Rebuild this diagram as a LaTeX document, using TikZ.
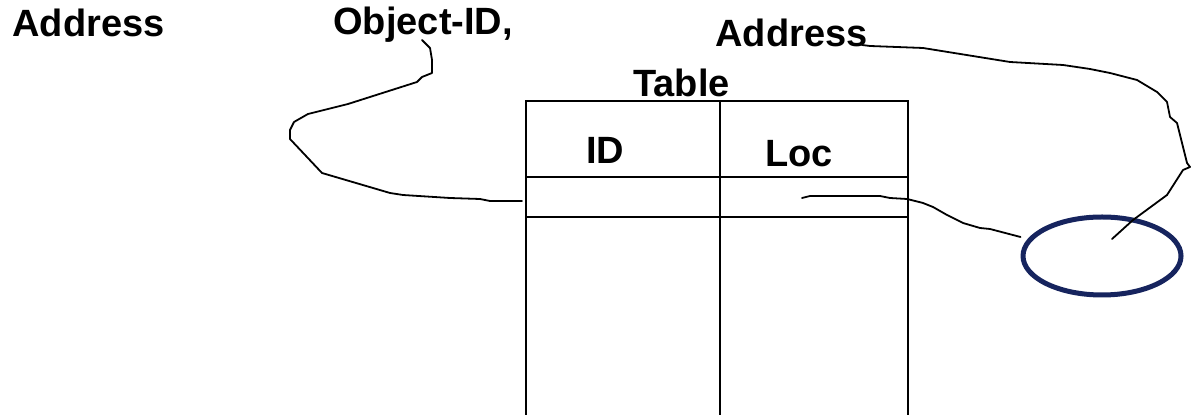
\documentclass[tikz,border=0pt]{standalone}
\usepackage{fontspec}
\setmainfont{Liberation Sans}
\usetikzlibrary{shapes.geometric}
\definecolor{navy}{RGB}{22,36,94}
\begin{document}
\begin{tikzpicture}[x=0.5pt,y=-0.5pt,
  lbl/.style={font=\bfseries\fontsize{19}{22}\selectfont, inner sep=0, anchor=base west},
  wire/.style={line width=0.9pt, line join=round, line cap=round},
  gridline/.style={line width=1.3pt}]
\useasboundingbox (0,0) rectangle (1192,415);
% labels
\node[lbl] (addrL) at (12,37) {Address};
\node[lbl] (objid) at (333,35) {Object-ID,};
\node[lbl] (addrR) at (715,47) {Address};
\node[lbl] (ttl) at (633,97) {Table};
\node[lbl] (idh) at (586,164) {ID};
\node[lbl] (loch) at (765,167) {Loc};
% table
\draw[gridline] (526,415) -- (526,101) -- (908,101) -- (908,415);
\draw[gridline] (720,101) -- (720,415);
\draw[gridline] (526,177) -- (908,177);
\draw[gridline] (526,217) -- (908,217);
% object
\node[draw=navy, line width=2.5pt, ellipse, minimum width=79pt, minimum height=39pt, inner sep=0] (obj) at (1102,256) {};
% connectors
\coordinate (idcell) at (522,201);
\coordinate (objc) at (422,40);
\coordinate (loccell) at (802,198);
\coordinate (objin) at (1112,239);
\coordinate (addrend) at (862,45);
\draw[wire] (idcell) -- (490,201) -- (480,199) -- (450,198) -- (403,195) -- (390,193) -- (322,173) -- (290,139) -- (290,130) -- (294,122) -- (308,114) -- (348,104) -- (417,82) -- (422,77) -- (432,73) -- (432,60) -- (430,48) -- (objc);
\draw[wire] (loccell) -- (810,196) -- (880,196) -- (890,198) -- (907,199) -- (923,203) -- (933,207) -- (947,215) -- (963,223) -- (980,228) -- (990,229) -- (obj.west |- 0,237) ;
\draw[wire] (objin) -- (1133,220) -- (1167,195) -- (1183,170) -- (1190,167) -- (1187,163) -- (1177,123) -- (1170,117) -- (1167,102) -- (1157,92) -- (1137,80) -- (1110,73) -- (1090,69) -- (1063,65) -- (1010,62) -- (923,48) -- (870,46) -- (addrend);
\end{tikzpicture}
\end{document}
